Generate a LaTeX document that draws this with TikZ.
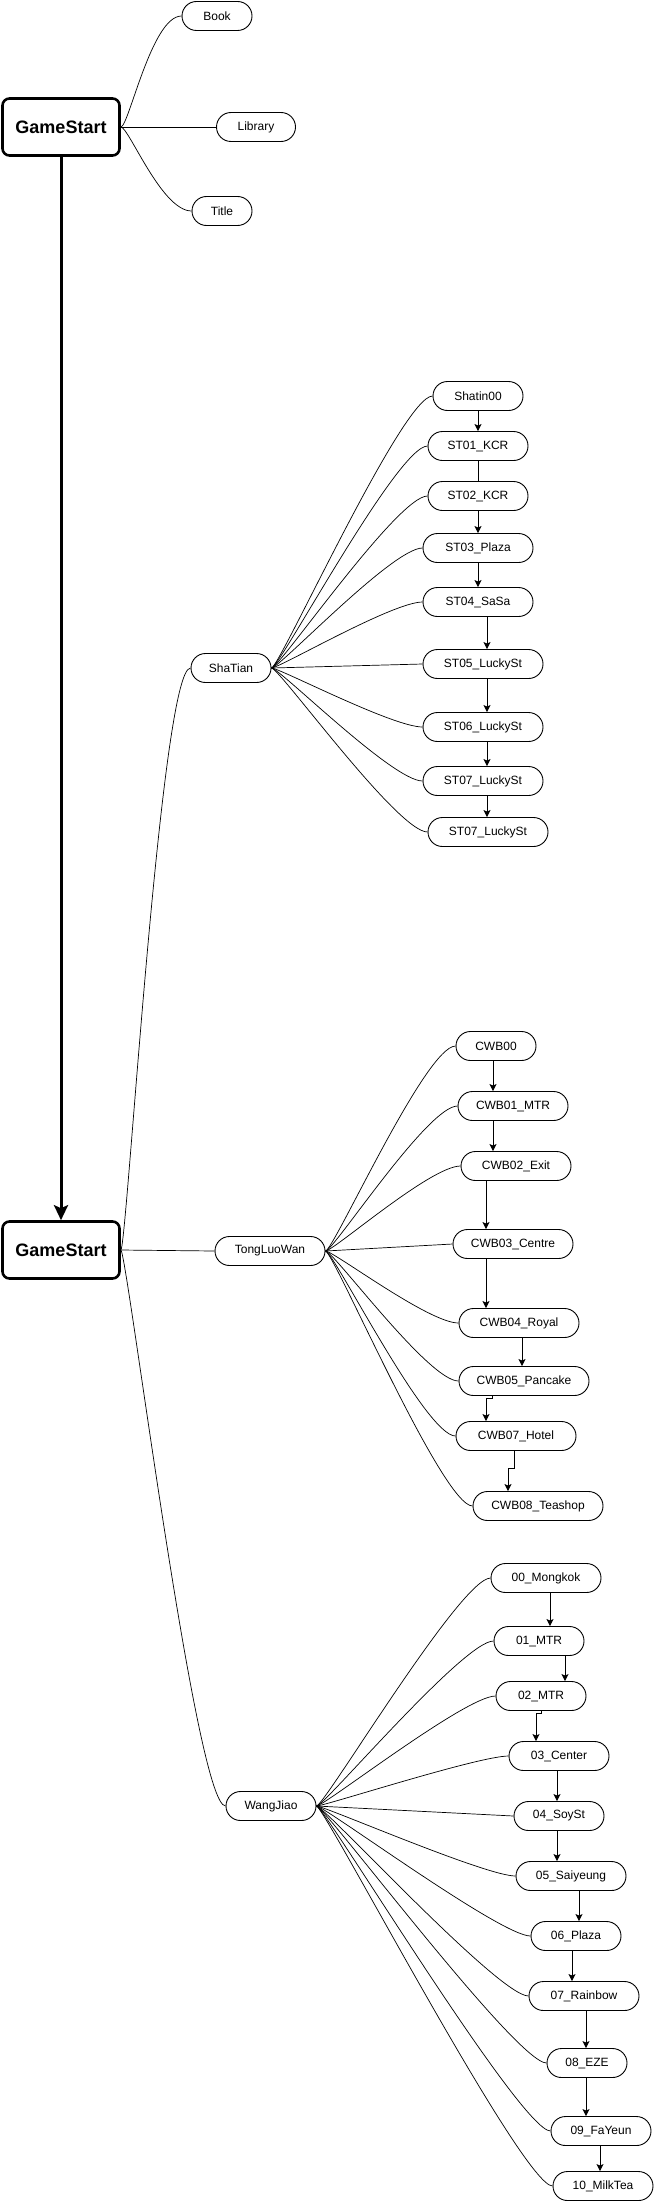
\documentclass[tikz,border=0pt]{standalone}
\usepackage{fontspec}
\setmainfont{Liberation Sans}
\usetikzlibrary{arrows.meta}
\tikzset{
  hub/.style={draw,line width=2.6pt,rounded corners=7pt,minimum width=117pt,minimum height=57pt,font=\fontsize{18}{20}\selectfont\bfseries},
  spot/.style={draw,line width=0.9pt,rounded corners=14.5pt,minimum height=29pt,inner sep=2pt,font=\fontsize{12}{14}\selectfont},
  twig/.style={line width=0.7pt},
  arr/.style={-{Stealth[length=7pt,width=7pt,inset=1.5pt]},line width=0.9pt},
  bigarr/.style={-{Stealth[length=15pt,width=14pt,inset=3pt]},line width=3pt},
}
\begin{document}
\begin{tikzpicture}[x=1pt,y=-1pt]
\useasboundingbox (0,0) rectangle (654,2202);
% start screen
\node[hub] (gs1) at (61,127) {GameStart};
\node[spot,minimum width=70pt] (book) at (217,16) {Book};
\node[spot,minimum width=79pt] (lib) at (256,127) {Library};
\node[spot,minimum width=60pt] (title) at (222,211) {Title};
\draw[twig] (gs1.east) .. controls +(8,0) and +(-30,0) .. (book.west);
\draw[twig] (gs1.east) -- (lib.west);
\draw[twig] (gs1.east) .. controls +(8,0) and +(-30,0) .. (title.west);

% map screen
\node[hub] (gs2) at (61,1250) {GameStart};
\draw[bigarr] (gs1.south) -- (gs2.north);
\node[spot,minimum width=80pt] (sha) at (231,668) {ShaTian};
\node[spot,minimum width=110pt] (tlw) at (270,1251) {TongLuoWan};
\node[spot,minimum width=90pt] (wj) at (271,1806) {WangJiao};
\draw[twig] (gs2.east) .. controls +(6,0) and +(-30,0) .. (sha.west);
\draw[twig] (gs2.east) -- (tlw.west);
\draw[twig] (gs2.east) .. controls +(6,0) and +(-30,0) .. (wj.west);

% ShaTian
\node[spot,minimum width=90pt] (st0) at (478,396) {Shatin00};
\node[spot,minimum width=100pt] (st1) at (478,446) {ST01\_KCR};
\node[spot,minimum width=100pt] (st2) at (478,496) {ST02\_KCR};
\node[spot,minimum width=110pt] (st3) at (478,548) {ST03\_Plaza};
\node[spot,minimum width=110pt] (st4) at (478,602) {ST04\_SaSa};
\node[spot,minimum width=120pt] (st5) at (483,664) {ST05\_LuckySt};
\node[spot,minimum width=120pt] (st6) at (483,727) {ST06\_LuckySt};
\node[spot,minimum width=120pt] (st7) at (483,781) {ST07\_LuckySt};
\node[spot,minimum width=120pt] (st8) at (488,832) {ST07\_LuckySt};
\draw[twig] (sha.east) .. controls +(8,0) and +(-30,0) .. (st0.west);
\draw[twig] (sha.east) .. controls +(8,0) and +(-30,0) .. (st1.west);
\draw[twig] (sha.east) .. controls +(8,0) and +(-30,0) .. (st2.west);
\draw[twig] (sha.east) .. controls +(8,0) and +(-30,0) .. (st3.west);
\draw[twig] (sha.east) .. controls +(8,0) and +(-30,0) .. (st4.west);
\draw[twig] (sha.east) -- (st5.west);
\draw[twig] (sha.east) .. controls +(8,0) and +(-30,0) .. (st6.west);
\draw[twig] (sha.east) .. controls +(8,0) and +(-30,0) .. (st7.west);
\draw[twig] (sha.east) .. controls +(8,0) and +(-30,0) .. (st8.west);
\draw[arr] (st0.south) -- (st0.south |- st1.north);
\draw[line width=0.9pt] (st1.south) -- (st1.south |- st2.north);
\draw[arr] (st2.south) -- (st2.south |- st3.north);
\draw[arr] (st3.south) -- (st3.south |- st4.north);
\draw[arr] ([xshift=9pt]st4.south) -- ([xshift=9pt]st4.south |- st5.north);
\draw[arr] ([xshift=4pt]st5.south) -- ([xshift=4pt]st5.south |- st6.north);
\draw[arr] ([xshift=4pt]st6.south) -- ([xshift=4pt]st6.south |- st7.north);
\draw[arr] ([xshift=4pt]st7.south) -- ([xshift=4pt]st7.south |- st8.north);

% TongLuoWan
\node[spot,minimum width=80pt] (cw0) at (496,1046) {CWB00};
\node[spot,minimum width=110pt] (cw1) at (513,1106) {CWB01\_MTR};
\node[spot,minimum width=110pt] (cw2) at (516,1166) {CWB02\_Exit};
\node[spot,minimum width=120pt] (cw3) at (513,1244) {CWB03\_Centre};
\node[spot,minimum width=120pt] (cw4) at (519,1323) {CWB04\_Royal};
\node[spot,minimum width=130pt] (cw5) at (524,1381) {CWB05\_Pancake};
\node[spot,minimum width=120pt] (cw7) at (516,1436) {CWB07\_Hotel};
\node[spot,minimum width=130pt] (cw8) at (538,1506) {CWB08\_Teashop};
\draw[twig] (tlw.east) .. controls +(8,0) and +(-30,0) .. (cw0.west);
\draw[twig] (tlw.east) .. controls +(8,0) and +(-30,0) .. (cw1.west);
\draw[twig] (tlw.east) .. controls +(8,0) and +(-30,0) .. (cw2.west);
\draw[twig] (tlw.east) -- (cw3.west);
\draw[twig] (tlw.east) .. controls +(8,0) and +(-30,0) .. (cw4.west);
\draw[twig] (tlw.east) .. controls +(8,0) and +(-30,0) .. (cw5.west);
\draw[twig] (tlw.east) .. controls +(8,0) and +(-30,0) .. (cw7.west);
\draw[twig] (tlw.east) .. controls +(8,0) and +(-30,0) .. (cw8.west);
\draw[arr] ([xshift=-3pt]cw0.south) -- ([xshift=-3pt]cw0.south |- cw1.north);
\draw[arr] ([xshift=-20pt]cw1.south) -- ([xshift=-20pt]cw1.south |- cw2.north);
\draw[arr] ([xshift=-30pt]cw2.south) -- ([xshift=-30pt]cw2.south |- cw3.north);
\draw[arr] ([xshift=-27pt]cw3.south) -- ([xshift=-27pt]cw3.south |- cw4.north);
\draw[arr] ([xshift=3pt]cw4.south) -- ([xshift=3pt]cw4.south |- cw5.north);
\draw[arr] ([xshift=-32pt]cw5.south) -- ++(0,2) -| ([xshift=-30pt]cw7.north);
\draw[arr] ([xshift=-2pt]cw7.south) -- ++(0,17) -| ([xshift=-30pt]cw8.north);

% WangJiao
\node[spot,minimum width=110pt] (wj0) at (546,1578) {00\_Mongkok};
\node[spot,minimum width=90pt] (wj1) at (539,1641) {01\_MTR};
\node[spot,minimum width=90pt] (wj2) at (541,1696) {02\_MTR};
\node[spot,minimum width=100pt] (wj3) at (559,1756) {03\_Center};
\node[spot,minimum width=90pt] (wj4) at (559,1816) {04\_SoySt};
\node[spot,minimum width=110pt] (wj5) at (571,1876) {05\_Saiyeung};
\node[spot,minimum width=90pt] (wj6) at (576,1936) {06\_Plaza};
\node[spot,minimum width=110pt] (wj7) at (584,1996) {07\_Rainbow};
\node[spot,minimum width=80pt] (wj8) at (587,2063) {08\_EZE};
\node[spot,minimum width=100pt] (wj9) at (601,2131) {09\_FaYeun};
\node[spot,minimum width=100pt] (wj10) at (603,2186) {10\_MilkTea};
\draw[twig] (wj.east) .. controls +(8,0) and +(-30,0) .. (wj0.west);
\draw[twig] (wj.east) .. controls +(8,0) and +(-30,0) .. (wj1.west);
\draw[twig] (wj.east) .. controls +(8,0) and +(-30,0) .. (wj2.west);
\draw[twig] (wj.east) .. controls +(8,0) and +(-30,0) .. (wj3.west);
\draw[twig] (wj.east) -- (wj4.west);
\draw[twig] (wj.east) .. controls +(8,0) and +(-30,0) .. (wj5.west);
\draw[twig] (wj.east) .. controls +(8,0) and +(-30,0) .. (wj6.west);
\draw[twig] (wj.east) .. controls +(8,0) and +(-30,0) .. (wj7.west);
\draw[twig] (wj.east) .. controls +(8,0) and +(-30,0) .. (wj8.west);
\draw[twig] (wj.east) .. controls +(8,0) and +(-30,0) .. (wj9.west);
\draw[twig] (wj.east) .. controls +(8,0) and +(-30,0) .. (wj10.west);
\draw[arr] ([xshift=4pt]wj0.south) -- ([xshift=4pt]wj0.south |- wj1.north);
\draw[arr] ([xshift=26pt]wj1.south) -- ([xshift=26pt]wj1.south |- wj2.north);
\draw[arr] (wj2.south) -- ++(0,2) -| ([xshift=-23pt]wj3.north);
\draw[arr] ([xshift=-2pt]wj3.south) -- ([xshift=-2pt]wj3.south |- wj4.north);
\draw[arr] ([xshift=-2pt]wj4.south) -- ([xshift=-2pt]wj4.south |- wj5.north);
\draw[arr] ([xshift=8pt]wj5.south) -- ([xshift=8pt]wj5.south |- wj6.north);
\draw[arr] ([xshift=-4pt]wj6.south) -- ([xshift=-4pt]wj6.south |- wj7.north);
\draw[arr] ([xshift=2pt]wj7.south) -- ([xshift=2pt]wj7.south |- wj8.north);
\draw[arr] ([xshift=-1pt]wj8.south) -- ([xshift=-1pt]wj8.south |- wj9.north);
\draw[arr] ([xshift=-1pt]wj9.south) -- ([xshift=-1pt]wj9.south |- wj10.north);
\end{tikzpicture}
\end{document}
